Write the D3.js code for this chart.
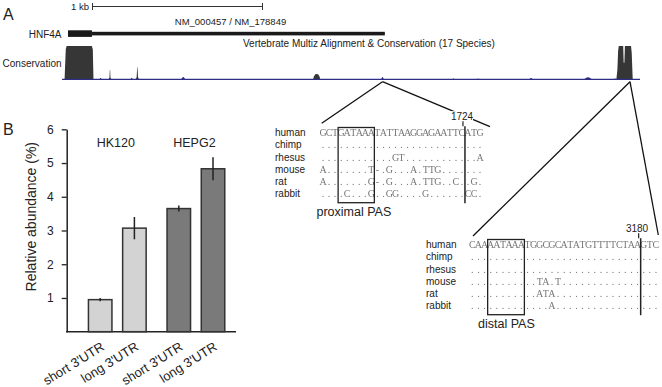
<!DOCTYPE html>
<html>
<head>
<meta charset="utf-8">
<script src="https://cdn.jsdelivr.net/npm/d3@7"></script>
<style>
body { margin: 0; background: #fff; }
text { font-family: "Liberation Sans", Arial, sans-serif; fill: #222; }
</style>
</head>
<body>
<div id="chart"></div>
<script>
// Data
// conservation profile: position (nt after stop codon) and score (0-1)
var cons_pos   = [-146, -139, -134, 14, 20, 24,
                  112, 118, 120, 122, 124, 130,
                  272, 278, 281, 283, 286, 292,
                  1316, 1321, 1329, 1337, 1345, 1353, 1358,
                  3100, 3106, 3110, 3114, 3140, 3143, 3147, 3150, 3186, 3190, 3196];
var cons_val   = [0, 0.9, 1, 1, 0.9, 0,
                  0, 0.05, 0.28, 0.28, 0.05, 0,
                  0, 0.06, 0.36, 0.36, 0.06, 0,
                  0, 0.09, 0.15, 0.16, 0.15, 0.09, 0,
                  0, 0.3, 0.85, 1, 1, 0.5, 0.5, 1, 1, 0.8, 0];
// weak conservation bumps
var low_pos    = [66, 249, 552, 1724, 2141, 2286, 2598, 2933, 3092];
var low_val    = [0.04, 0.05, 0.07, 0.07, 0.03, 0.03, 0.04, 0.06, 0.03];
var low_width  = [6, 6, 12, 8, 4, 4, 10, 22, 4];
// gene model (nt)
var gene_cds   = [-126, 15];
var gene_utr   = [15, 1738];
var track_span = [-161, 3239];
var pas_pos    = [1724, 3180];

// alignments
var species     = ["human", "chimp", "rhesus", "mouse", "rat", "rabbit"];
var proximal_seq = [
    "GCTGATAAATATTAAGGAGAATTCATG",
    "...........................",
    "............GT............A",
    "A.......T-.G...A.TTG.......",
    "A.......G-.G...A.TTG..C..G.",
    "....C...G..GG....G......CC."
];
var distal_seq = [
    "CAAAATAAATGGCGCATATGTTTTCTAAGTC",
    "...............................",
    "...............................",
    "...........TA.T................",
    "...........ATA.................",
    ".............A................."
];

// bar chart
var cell_lines     = ["HK120", "HEPG2"];
var utr_types      = ["short 3'UTR", "long 3'UTR"];
var abundance      = [[0.95, 3.07], [3.65, 4.83]];
var abundance_err  = [[0.05, 0.33], [0.09, 0.34]];
var bar_colors     = ["#d3d3d3", "#7a7a7a"];
var y_ticks        = [1, 2, 3, 4, 5, 6];

var chart_width    = 662;
var chart_height   = 387;

var svg = d3.select("#chart")
    .append("svg")
    .attr("width", chart_width)
    .attr("height", chart_height);

// plain filter so the small gray letters get grayscale antialiasing
svg.append("defs").append("filter")
    .attr("id", "flat")
    .append("feOffset").attr("dx", 0).attr("dy", 0);

// ---------- Panel A ----------
svg.append("text").attr("x", 3).attr("y", 20).style("font-size", "16px").text("A");

var x_scale = d3.scaleLinear()
    .domain([0, 1000])
    .range([89.4, 259.4]);
var cons_y = d3.scaleLinear()
    .domain([0, 1])
    .range([79.3, 46]);

// scale bar
var kb = x_scale(1000) - x_scale(0);
var sb = svg.append("g").attr("stroke", "#333").attr("stroke-width", 1);
sb.append("line").attr("x1", 92.5).attr("x2", 92.5 + kb).attr("y1", 6.5).attr("y2", 6.5);
sb.append("line").attr("x1", 92.5).attr("x2", 92.5).attr("y1", 3).attr("y2", 10);
sb.append("line").attr("x1", 92.5 + kb).attr("x2", 92.5 + kb).attr("y1", 3).attr("y2", 10);
svg.append("text").attr("x", 89).attr("y", 9.5).attr("text-anchor", "end")
    .style("font-size", "9.5px").text("1 kb");

svg.append("text").attr("x", 230.5).attr("y", 25).attr("text-anchor", "middle")
    .style("font-size", "9.5px").text("NM_000457 / NM_178849");

// gene
svg.append("text").attr("x", 61.5).attr("y", 37.5).attr("text-anchor", "end")
    .style("font-size", "10px").text("HNF4A");
svg.append("rect")
    .attr("x", x_scale(gene_cds[0])).attr("y", 30.3)
    .attr("width", x_scale(gene_cds[1]) - x_scale(gene_cds[0])).attr("height", 6.6)
    .attr("fill", "#1a1a1a");
svg.append("rect")
    .attr("x", x_scale(gene_utr[0])).attr("y", 31.8)
    .attr("width", x_scale(gene_utr[1]) - x_scale(gene_utr[0])).attr("height", 3.6)
    .attr("fill", "#1a1a1a");

svg.append("text").attr("x", 243).attr("y", 46.5)
    .style("font-size", "10px").text("Vertebrate Multiz Alignment & Conservation (17 Species)");
svg.append("text").attr("x", 61.5).attr("y", 66.5).attr("text-anchor", "end")
    .style("font-size", "10px").text("Conservation");

// conservation track
var cons_data = cons_pos.map(function(p, i) { return [p, cons_val[i]]; });
var cons_area = d3.area()
    .x(function(d) { return x_scale(d[0]); })
    .y0(cons_y(0))
    .y1(function(d) { return cons_y(d[1]); });

svg.append("path")
    .datum(cons_data)
    .attr("d", cons_area)
    .attr("fill", "#363636");

var bump_area = d3.area()
    .x(function(d) { return x_scale(d[0]); })
    .y0(cons_y(0))
    .y1(function(d) { return cons_y(d[1]); })
    .curve(d3.curveMonotoneX);

svg.selectAll(".bump")
    .data(low_pos)
    .enter()
    .append("path")
    .attr("class", "bump")
    .attr("d", function(p, i) {
        return bump_area([[p - low_width[i], 0], [p, low_val[i]], [p + low_width[i], 0]]);
    })
    .attr("fill", "#2e2e86");

svg.append("line")
    .attr("x1", x_scale(track_span[0])).attr("x2", x_scale(track_span[1]))
    .attr("y1", cons_y(0)).attr("y2", cons_y(0))
    .attr("stroke", "#2e2e86").attr("stroke-width", 1.3);

// zoom lines
var zl = svg.append("g").attr("stroke", "#111").attr("stroke-width", 1.3);
var ax1 = x_scale(pas_pos[0]), ax2 = x_scale(pas_pos[1]), ay = 81.7;
zl.append("line").attr("x1", ax1).attr("y1", ay).attr("x2", 321.7).attr("y2", 123.3);
zl.append("line").attr("x1", ax1).attr("y1", ay).attr("x2", 490).attr("y2", 126.7);
zl.append("line").attr("x1", ax2).attr("y1", ay).attr("x2", 473).attr("y2", 236);
zl.append("line").attr("x1", ax2).attr("y1", ay).attr("x2", 658.3).attr("y2", 235);

// alignments
function draw_alignment(seqs, o) {
    var g = svg.append("g");
    var col = d3.scaleLinear().domain([0, 1]).range([o.x0, o.x0 + o.step]);
    var row = d3.scaleLinear().domain([0, 1]).range([o.y0, o.y0 + 12.15]);

    g.selectAll(".sp")
        .data(species)
        .enter()
        .append("text")
        .attr("x", o.lx)
        .attr("y", function(d, i) { return row(i); })
        .style("font-size", "10px")
        .text(function(d) { return d; });

    var sg = g.append("g").attr("filter", "url(#flat)");
    seqs.forEach(function(s, r) {
        sg.selectAll(".c" + r)
            .data(s.split(""))
            .enter()
            .append("text")
            .attr("x", function(d, i) { return col(i + 0.5); })
            .attr("y", row(r))
            .attr("text-anchor", "middle")
            .style("font-family", "'Liberation Serif', serif")
            .style("font-size", "10px")
            .style("fill", "#777")
            .text(function(d) { return d; });
    });

    g.append("rect")
        .attr("x", col(o.box[0])).attr("y", o.y0 - 8.7)
        .attr("width", col(o.box[1]) - col(o.box[0]))
        .attr("height", 75.2)
        .attr("fill", "none").attr("stroke", "#222").attr("stroke-width", 1.3);

    // position marker
    g.append("rect")
        .attr("x", o.px - 18).attr("y", o.y0 - 25).attr("width", 26).attr("height", 11)
        .attr("fill", "#fff");
    g.append("text")
        .attr("x", o.px - 3).attr("y", o.y0 - 16.5)
        .attr("text-anchor", "middle")
        .style("font-size", "10px")
        .text(o.pos);
    g.append("line")
        .attr("x1", col(o.line) - 2).attr("x2", col(o.line) - 2)
        .attr("y1", o.y0 - 15).attr("y2", o.y0 - 10)
        .attr("stroke", "#222").attr("stroke-width", 1.2);
    g.append("line")
        .attr("x1", col(o.line)).attr("x2", col(o.line))
        .attr("y1", o.y0 - 10).attr("y2", o.y0 + 67)
        .attr("stroke", "#222").attr("stroke-width", 1.5);

    g.append("text")
        .attr("x", o.tx).attr("y", o.y0 + 80)
        .style("font-size", "12.5px")
        .text(o.label);
}

draw_alignment(proximal_seq, {
    x0: 320, step: 6.04, y0: 136.2, lx: 275, box: [3, 9], line: 24,
    px: 465, pos: pas_pos[0], tx: 316.5, label: "proximal PAS"
});
draw_alignment(distal_seq, {
    x0: 469.3, step: 6.12, y0: 248.2, lx: 426, box: [3, 9], line: 28,
    px: 640, pos: pas_pos[1], tx: 478, label: "distal PAS"
});

// ---------- Panel B ----------
svg.append("text").attr("x", 3).attr("y", 135).style("font-size", "16px").text("B");

var y_bar = d3.scaleLinear()
    .domain([0, 6])
    .range([331.7, 129.3]);
var x_group = d3.scaleBand()
    .domain(cell_lines)
    .range([83.1, 230.1])
    .paddingInner(0.13)
    .paddingOuter(0);
var x_utr = d3.scaleBand()
    .domain(utr_types)
    .range([0, x_group.bandwidth()])
    .paddingInner(0.313)
    .paddingOuter(0.156);

var y_axis = d3.axisLeft(y_bar)
    .tickValues(y_ticks)
    .tickFormat(d3.format("d"))
    .tickSize(5)
    .tickSizeOuter(0)
    .tickPadding(8);

var ya = svg.append("g")
    .attr("transform", "translate(66.7,0)")
    .call(y_axis);
ya.select(".domain").attr("stroke", "#222").attr("stroke-width", 1.5);
ya.selectAll(".tick line").attr("stroke", "#222").attr("stroke-width", 1.3);
ya.selectAll(".tick text")
    .style("font-family", "'Liberation Sans', Arial, sans-serif")
    .style("font-size", "12px")
    .attr("fill", "#222");

svg.append("line")
    .attr("x1", 66).attr("x2", 236)
    .attr("y1", y_bar(0)).attr("y2", y_bar(0))
    .attr("stroke", "#222").attr("stroke-width", 1.5);

svg.append("text")
    .attr("transform", "translate(35.5,216.7) rotate(-90)")
    .attr("text-anchor", "middle")
    .style("font-size", "14px")
    .text("Relative abundance (%)");

cell_lines.forEach(function(c, gi) {
    var g = svg.append("g").attr("transform", "translate(" + x_group(c) + ",0)");

    g.selectAll("rect")
        .data(utr_types)
        .enter()
        .append("rect")
        .attr("x", function(d) { return x_utr(d); })
        .attr("y", function(d, i) { return y_bar(abundance[gi][i]); })
        .attr("width", x_utr.bandwidth())
        .attr("height", function(d, i) { return y_bar(0) - y_bar(abundance[gi][i]); })
        .attr("fill", bar_colors[gi])
        .attr("stroke", "#333")
        .attr("stroke-width", 1.5);

    g.selectAll(".err")
        .data(utr_types)
        .enter()
        .append("line")
        .attr("class", "err")
        .attr("x1", function(d) { return x_utr(d) + x_utr.bandwidth() / 2; })
        .attr("x2", function(d) { return x_utr(d) + x_utr.bandwidth() / 2; })
        .attr("y1", function(d, i) { return y_bar(abundance[gi][i] + abundance_err[gi][i]); })
        .attr("y2", function(d, i) { return y_bar(abundance[gi][i] - abundance_err[gi][i]); })
        .attr("stroke", "#222")
        .attr("stroke-width", 1.5);

    g.selectAll(".xl")
        .data(utr_types)
        .enter()
        .append("text")
        .attr("class", "xl")
        .attr("transform", function(d) {
            return "translate(" + (x_utr(d) + x_utr.bandwidth() / 2 + 5) + ",349) rotate(-32)";
        })
        .attr("text-anchor", "end")
        .style("font-size", "13px")
        .text(function(d) { return d; });

    svg.append("text")
        .attr("x", x_group(c) + x_group.bandwidth() / 2 - 1.5)
        .attr("y", 147.3)
        .attr("text-anchor", "middle")
        .style("font-size", "12.5px")
        .text(c);
});
</script>
</body>
</html>
